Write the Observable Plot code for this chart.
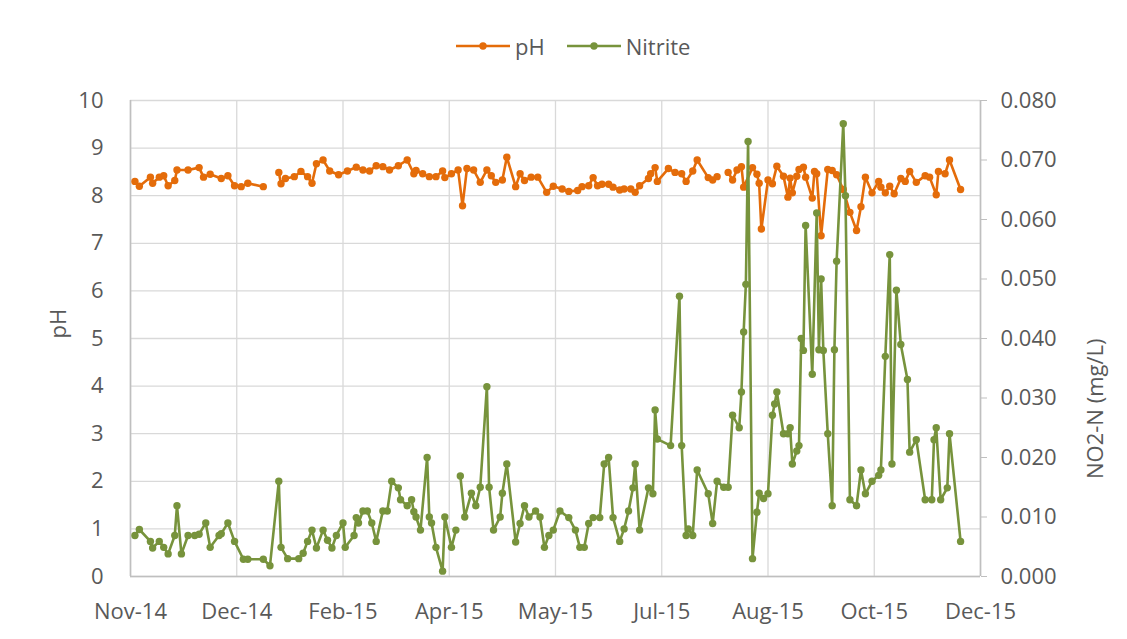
<!DOCTYPE html>
<html><head><meta charset="utf-8">
<script src="https://cdn.jsdelivr.net/npm/d3@7"></script>
<script src="https://cdn.jsdelivr.net/npm/@observablehq/plot@0.6"></script>
<style>
html,body{margin:0;padding:0;background:#fff;}
#chart{position:relative;width:1127px;height:639px;font-family:'Open Sans',sans-serif;color:#595959;overflow:hidden;}
#legend{position:relative;height:80px;}
#legend .items{position:absolute;left:456px;top:30px;display:flex;align-items:center;font-size:22px;line-height:32px;}
#legend .item{display:flex;align-items:center;margin-right:22px;}
#legend .item span{margin-left:5px;}
svg{display:block;}
</style></head><body>
<div id="chart"><div id="legend"><div class="items"></div></div></div>
<script>
// ---- data ----
const startDate = new Date(Date.UTC(2014, 10, 12)); // first axis tick
const tickStepDays = 48;
const tickCount = 9;
const seriesNames = ["pH", "Nitrite"];
const seriesColors = ["#E46C0A", "#77933C"];

// days since startDate
const phDay = [2,4,9,10,13,15,17,20,21,26,31,33,36,41,44,47,50,53,60,64,67,68,70,74,77,80,82,84,87,90,94,98,102,105,108,111,114,117,121,125,128,129,132,135,138,141,142,145,148,150,152,155,158,161,163,165,168,170,174,176,178,181,184,188,191,195,198,202,204,207,209,211,213,216,218,221,223,226,228,230,234,235,237,238,243,246,249,251,254,256,261,263,265,267,270,272,274,276,277,281,283,284,285,288,290,292,295,297,298,299,301,302,304,305,308,309,310,312,315,317,319,322,325,328,330,332,335,338,339,341,343,345,348,350,352,355,359,361,364,365,368,370,375];
const phVal = [8.30,8.20,8.39,8.26,8.39,8.42,8.21,8.32,8.54,8.54,8.59,8.39,8.45,8.36,8.42,8.21,8.19,8.26,8.19,NaN,8.49,8.25,8.36,8.40,8.51,8.40,8.26,8.67,8.75,8.52,8.44,8.52,8.60,8.54,8.52,8.63,8.61,8.54,8.63,8.75,8.46,8.53,8.46,8.40,8.40,8.52,8.38,8.46,8.54,7.79,8.57,8.54,8.28,8.54,8.42,8.28,8.33,8.81,8.19,8.46,8.32,8.39,8.39,8.07,8.20,8.14,8.09,8.11,8.19,8.21,8.38,8.21,8.24,8.24,8.18,8.12,8.14,8.14,8.07,8.21,8.36,8.46,8.59,8.30,8.57,8.49,8.46,8.30,8.52,8.75,8.38,8.33,8.40,NaN,8.49,8.33,8.54,8.61,8.18,8.59,8.45,8.26,7.30,8.33,8.25,8.62,8.41,7.97,8.37,8.06,8.41,8.55,8.60,8.39,7.95,8.51,8.46,7.16,8.55,8.53,8.44,8.13,7.65,7.27,7.77,8.39,8.06,8.30,8.18,8.06,8.20,8.04,8.36,8.30,8.51,8.28,8.42,8.39,8.02,8.51,8.46,8.75,8.13];

const no2Day = [2,4,9,10,13,15,17,20,21,23,26,29,31,34,36,40,41,44,47,51,53,60,63,67,68,71,76,78,80,82,84,87,89,91,93,96,97,101,102,103,105,107,109,111,114,116,118,121,122,125,127,128,129,131,134,135,136,138,141,142,145,147,148,149,151,154,156,158,161,162,164,167,168,170,174,176,178,180,183,185,187,189,191,194,198,201,203,205,207,209,212,214,216,218,221,223,225,227,228,230,234,236,237,238,244,248,249,251,252,254,256,261,263,265,268,270,272,275,276,277,278,279,281,283,284,286,288,290,291,292,295,297,298,299,301,302,303,304,305,308,310,311,312,313,315,317,318,319,322,323,325,328,330,332,335,338,339,341,343,344,346,348,351,352,355,359,362,363,364,366,369,370,375];
const no2Val = [0.0069,0.0079,0.0059,0.0048,0.0059,0.0049,0.0038,0.0069,0.0119,0.0038,0.0069,0.0069,0.0071,0.0090,0.0049,0.0069,0.0072,0.0090,0.0059,0.0029,0.0029,0.0029,0.0018,0.0160,0.0049,0.0030,0.0030,0.0039,0.0059,0.0078,0.0048,0.0078,0.0061,0.0048,0.0069,0.0090,0.0049,0.0069,0.0099,0.0090,0.0110,0.0110,0.0090,0.0059,0.0110,0.0110,0.0160,0.0149,0.0129,0.0119,0.0129,0.0109,0.0100,0.0078,0.0200,0.0100,0.0090,0.0049,0.0009,0.0100,0.0049,0.0078,NaN,0.0169,0.0100,0.0140,0.0119,0.0150,0.0319,0.0150,0.0078,0.0100,0.0140,0.0189,0.0058,0.0089,0.0119,0.0100,0.0110,0.0100,0.0049,0.0069,0.0078,0.0110,0.0099,0.0078,0.0049,0.0049,0.0089,0.0099,0.0099,0.0189,0.0200,0.0099,0.0059,0.0080,0.0110,0.0149,0.0189,0.0078,0.0149,0.0139,0.0280,0.0231,0.0220,0.0471,0.0220,0.0069,0.0080,0.0069,0.0179,0.0139,0.0089,0.0160,0.0150,0.0150,0.0271,0.0250,0.0310,0.0411,0.0491,0.0731,0.0030,0.0108,0.0140,0.0131,0.0139,0.0271,0.0290,0.0310,0.0240,0.0240,0.0250,0.0189,0.0211,0.0220,0.0400,0.0380,0.0590,0.0340,0.0611,0.0381,0.0500,0.0380,0.0240,0.0119,0.0381,0.0530,0.0761,0.0640,0.0129,0.0119,0.0179,0.0139,0.0160,0.0170,0.0179,0.0370,0.0541,0.0189,0.0481,0.0390,0.0331,0.0209,0.0230,0.0129,0.0129,0.0230,0.0250,0.0129,0.0149,0.0240,0.0059];

const phTicks = [0,1,2,3,4,5,6,7,8,9,10];
const no2Ticks = [0,0.01,0.02,0.03,0.04,0.05,0.06,0.07,0.08];
const yTitleLeft = "pH";
const yTitleRight = "NO2-N (mg/L)";

// ---- build ----
const day = d => d3.utcDay.offset(startDate, d);
const xTicks = d3.range(tickCount).map(i => day(i * tickStepDays));
const xEnd = xTicks[xTicks.length - 1];
const k = phTicks[phTicks.length - 1] / no2Ticks[no2Ticks.length - 1]; // secondary -> primary
const phData = phDay.map((d, i) => ({date: day(d), v: phVal[i]}));
const no2Data = no2Day.map((d, i) => ({date: day(d), v: no2Val[i] * k}));

// legend
const items = d3.select("#legend .items");
seriesNames.forEach((name, i) => {
  const it = items.append("div").attr("class", "item");
  const s = it.append("svg").attr("width", 54).attr("height", 12);
  s.append("line").attr("x1", 0).attr("x2", 54).attr("y1", 6).attr("y2", 6)
    .attr("stroke", seriesColors[i]).attr("stroke-width", 2.6);
  s.append("circle").attr("cx", 27).attr("cy", 6).attr("r", 3.7).attr("fill", seriesColors[i]);
  it.append("span").text(name);
});

const grid = "#d9d9d9", axisCol = "#bfbfbf", txt = "#595959";
const chart = Plot.plot({
  width: 1127, height: 559,
  marginLeft: 130, marginRight: 147, marginTop: 20, marginBottom: 63,
  style: {fontFamily: "'Open Sans', sans-serif", fontSize: "22px", color: txt, background: "#fff", overflow: "visible"},
  x: {type: "utc", domain: [startDate, xEnd]},
  y: {domain: [phTicks[0], phTicks[phTicks.length - 1]]},
  marks: [
    Plot.gridY(phTicks, {stroke: grid, strokeOpacity: 1, strokeWidth: 1.3}),
    Plot.gridX(xTicks, {stroke: grid, strokeOpacity: 1, strokeWidth: 1.3}),
    Plot.ruleX([startDate, xEnd], {stroke: axisCol, strokeWidth: 1.6}),
    Plot.ruleY([phTicks[0]], {stroke: axisCol, strokeWidth: 1.6}),
    Plot.axisY(phTicks, {anchor: "left", tickSize: 0, tickPadding: 27, fill: txt, label: null, fontSize: 22}),
    Plot.axisY(no2Ticks.map(t => t * k), {anchor: "right", tickSize: 6, tickPadding: 14, stroke: axisCol, fill: txt,
      tickFormat: d => d3.format(".3f")(d / k), label: null, fontSize: 22}),
    Plot.axisX(xTicks, {anchor: "bottom", tickSize: 0, tickPadding: 27, fill: txt, tickFormat: d3.utcFormat("%b-%y"), label: null, fontSize: 22}),
    Plot.line(phData, {x: "date", y: "v", stroke: seriesColors[0], strokeWidth: 2.6}),
    Plot.dot(phData, {x: "date", y: "v", fill: seriesColors[0], r: 3.7}),
    Plot.line(no2Data, {x: "date", y: "v", stroke: seriesColors[1], strokeWidth: 2.6}),
    Plot.dot(no2Data, {x: "date", y: "v", fill: seriesColors[1], r: 3.7}),
    Plot.text([yTitleLeft], {text: d => d, frameAnchor: "left", dx: -72, rotate: -90, fill: txt, fontSize: 22}),
    Plot.text([yTitleRight], {text: d => d, frameAnchor: "right", dx: 115, rotate: -90, fill: txt, fontSize: 22})
  ]
});
document.getElementById("chart").appendChild(chart);
</script>
</body></html>
